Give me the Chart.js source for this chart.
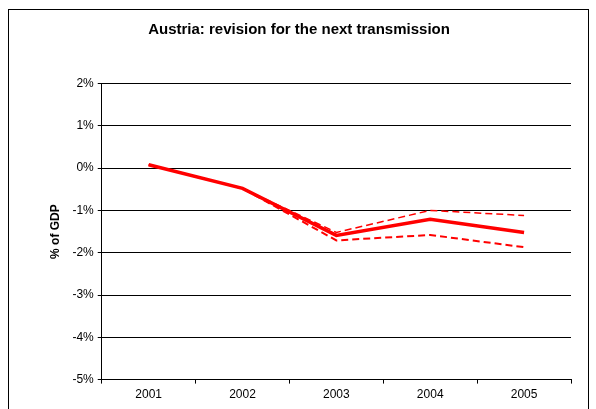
<!DOCTYPE html>
<html>
<head>
<meta charset="utf-8">
<script src="https://cdn.jsdelivr.net/npm/chart.js@4"></script>
<style>
    body { margin: 0; background: #fff; }
    #wrap { width: 596px; height: 409px; }
</style>
</head>
<body>
<div id="wrap"><canvas id="chart" width="596" height="409"></canvas></div>
<script>
const years = ['2001', '2002', '2003', '2004', '2005'];
const revision = [0.08, -0.48, -1.59, -1.21, -1.52];
const upperBand = [0.08, -0.48, -1.52, -1.00, -1.12];
const lowerBand = [0.08, -0.48, -1.71, -1.58, -1.87];

// rahmen um das ganze diagramm
const frame = {
    id: 'frame',
    afterDraw(chart) {
        const ctx = chart.ctx;
        ctx.save();
        ctx.strokeStyle = '#000';
        ctx.lineWidth = 1;
        ctx.strokeRect(8.5, 9.5, 580, 410);
        ctx.restore();
    }
};

const ctx = document.getElementById('chart').getContext('2d');
new Chart(ctx, {
    type: 'line',
    data: {
        labels: years,
        datasets: [{
            data: upperBand,
            borderColor: '#ff0000',
            borderWidth: 1.5,
            borderDash: [7, 4],
            pointRadius: 0,
            tension: 0
        }, {
            data: lowerBand,
            borderColor: '#ff0000',
            borderWidth: 2,
            borderDash: [7, 4],
            pointRadius: 0,
            tension: 0
        }, {
            data: revision,
            borderColor: '#ff0000',
            borderWidth: 3.5,
            pointRadius: 0,
            tension: 0
        }]
    },
    options: {
        responsive: false,
        animation: false,
        layout: { padding: { top: 0, right: 25, bottom: 3, left: 27 } },
        plugins: {
            legend: { display: false },
            tooltip: { enabled: false },
            title: {
                display: true,
                text: 'Austria: revision for the next transmission',
                color: '#000',
                font: { family: 'Liberation Sans', size: 15, weight: 'bold' },
                padding: { top: 21, bottom: 44.5 }
            }
        },
        scales: {
            x: {
                offset: true,
                grid: { drawOnChartArea: false, offset: true, color: '#000', tickLength: 4 },
                border: { color: '#000' },
                ticks: { color: '#000', font: { family: 'Liberation Sans', size: 12 }, padding: 4 }
            },
            y: {
                min: -5,
                max: 2,
                ticks: {
                    stepSize: 1,
                    color: '#000',
                    font: { family: 'Liberation Sans', size: 12 },
                    padding: 4,
                    callback: v => v + '%'
                },
                grid: { color: '#000', tickLength: 4 },
                border: { color: '#000' },
                title: {
                    display: true,
                    text: '% of GDP',
                    color: '#000',
                    font: { family: 'Liberation Sans', size: 12, weight: 'bold' },
                    padding: { top: 21, bottom: 6 }
                }
            }
        }
    },
    plugins: [frame]
});
</script>
</body>
</html>
